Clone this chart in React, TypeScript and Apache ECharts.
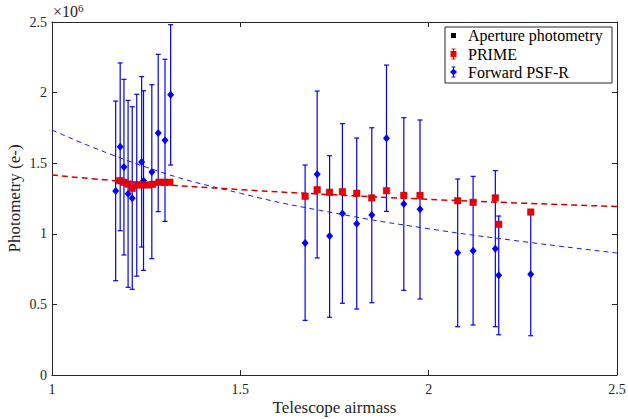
import React, { useEffect, useRef } from "react";
import * as echarts from "echarts";

// Forward PSF-R (values in units of 10^6 e-)
const blueAirmass = [1.169, 1.181, 1.191, 1.202, 1.213, 1.225, 1.238, 1.243, 1.265, 1.282, 1.300, 1.315,
  1.672, 1.704, 1.737, 1.771, 1.809, 1.849, 1.888, 1.934, 1.977, 2.077, 2.118, 2.177, 2.186, 2.271];
const blueValue = [1.303, 1.617, 1.473, 1.284, 1.251, 1.346, 1.508, 1.376, 1.438, 1.714, 1.662, 1.985,
  0.935, 1.421, 0.984, 1.143, 1.072, 1.133, 1.676, 1.211, 1.173, 0.866, 0.880, 0.895, 0.706, 0.713];
const blueLow = [0.668, 1.022, 0.850, 0.621, 0.607, 0.700, 0.906, 0.741, 0.824, 1.157, 1.088, 1.487,
  0.387, 0.829, 0.409, 0.508, 0.467, 0.512, 1.159, 0.600, 0.538, 0.342, 0.354, 0.342, 0.285, 0.278];
const blueHigh = [1.940, 2.210, 2.094, 1.945, 1.900, 1.988, 2.113, 2.013, 2.056, 2.271, 2.236, 2.481,
  1.487, 2.011, 1.553, 1.780, 1.678, 1.751, 2.195, 1.822, 1.806, 1.388, 1.407, 1.447, 1.126, 1.157];

// PRIME
const redAirmass = [1.180, 1.191, 1.202, 1.213, 1.225, 1.240, 1.256, 1.267, 1.284, 1.298, 1.313,
  1.672, 1.704, 1.737, 1.771, 1.809, 1.849, 1.888, 1.934, 1.977, 2.077, 2.118, 2.177, 2.186, 2.271];
const redValue = [1.376, 1.365, 1.353, 1.322, 1.346, 1.346, 1.346, 1.351, 1.365, 1.365, 1.365,
  1.266, 1.312, 1.294, 1.298, 1.287, 1.254, 1.305, 1.272, 1.272, 1.234, 1.223, 1.254, 1.067, 1.154];
const redError = [0.015, 0.015, 0.015, 0.015, 0.015, 0.015, 0.015, 0.015, 0.015, 0.015, 0.015,
  0.015, 0.015, 0.015, 0.015, 0.015, 0.015, 0.015, 0.015, 0.015, 0.015, 0.015, 0.015, 0.015, 0.015];

// Fitted trends
const fitAirmass = [1.0, 1.25, 1.5, 1.75, 2.0, 2.25, 2.5];
const fitBlue = [1.735, 1.472, 1.287, 1.147, 1.036, 0.945, 0.864];
const fitRed = [1.416, 1.358, 1.313, 1.276, 1.244, 1.217, 1.193];

const xTicks = [1, 1.5, 2, 2.5];
const yTicks = [0, 0.5, 1, 1.5, 2, 2.5];

const FONT = "'Liberation Serif', 'Times New Roman', serif";
const AX = "#262626";

function errorBarSeries(xs: number[], lo: number[], hi: number[], color: string, cap: number, z: number) {
  return {
    type: "custom",
    z,
    silent: true,
    encode: { x: 0, y: [1, 2] },
    data: xs.map((x, i) => [x, lo[i], hi[i]]),
    renderItem: (_params: any, api: any) => {
      const x = api.value(0);
      const p1 = api.coord([x, api.value(1)]);
      const p2 = api.coord([x, api.value(2)]);
      const style = { stroke: color, lineWidth: 1.2, fill: "none" };
      return {
        type: "group",
        children: [
          { type: "line", shape: { x1: p1[0], y1: p1[1], x2: p2[0], y2: p2[1] }, style },
          { type: "line", shape: { x1: p1[0] - cap, y1: p1[1], x2: p1[0] + cap, y2: p1[1] }, style },
          { type: "line", shape: { x1: p2[0] - cap, y1: p2[1], x2: p2[0] + cap, y2: p2[1] }, style },
        ],
      };
    },
  };
}

export default function App() {
  const ref = useRef<HTMLDivElement>(null);
  useEffect(() => {
    if (!ref.current) return;
    const chart = echarts.init(ref.current, null, { renderer: "svg" });
    const axisCommon = {
      min: 0,
      max: 2.5,
      interval: 0.5,
      axisLine: { show: true, onZero: false, lineStyle: { color: AX, width: 1 } },
      axisTick: { show: true, inside: true, length: 5, lineStyle: { color: AX } },
      splitLine: { show: false },
    };
    const lx = 445, ly = 27;
    chart.setOption({
      animation: false,
      backgroundColor: "#ffffff",
      grid: { left: 52, right: 11, top: 22, bottom: 44, containLabel: false, outerBoundsMode: "none" },
      xAxis: [
        {
          ...axisCommon,
          min: 1,
          max: 2.5,
          interval: 0.5,
          position: "bottom",
          name: "Telescope airmass",
          nameLocation: "middle",
          nameGap: 24,
          nameMoveOverlap: false,
          nameTextStyle: { fontFamily: FONT, fontSize: 17, color: AX },
          axisLabel: {
            fontFamily: FONT, fontSize: 14, color: AX, margin: 7,
            formatter: (v: number) => (xTicks.includes(v) ? String(v) : ""),
          },
        },
        {
          ...axisCommon,
          min: 1,
          max: 2.5,
          interval: 0.5,
          position: "top",
          axisLabel: { show: false },
        },
      ],
      yAxis: [
        {
          ...axisCommon,
          position: "left",
          name: "Photometry (e-)",
          nameLocation: "middle",
          nameGap: 29,
          nameMoveOverlap: false,
          nameTextStyle: { fontFamily: FONT, fontSize: 17, color: AX },
          axisLabel: {
            fontFamily: FONT, fontSize: 14, color: AX, margin: 5,
            formatter: (v: number) => (yTicks.includes(v) ? String(v) : ""),
          },
        },
        { ...axisCommon, position: "right", axisLabel: { show: false } },
      ],
      series: [
        errorBarSeries(blueAirmass, blueLow, blueHigh, "#0000ff", 2.5, 2),
        {
          type: "line",
          data: fitAirmass.map((x, i) => [x, fitBlue[i]]),
          smooth: true,
          symbol: "none",
          z: 3,
          lineStyle: { color: "#1a1aff", width: 1, type: [5, 4] },
        },
        errorBarSeries(redAirmass, redAirmass.map((_, i) => redValue[i] - redError[i]),
          redAirmass.map((_, i) => redValue[i] + redError[i]), "#ff0000", 2.5, 4),
        {
          type: "scatter",
          data: blueAirmass.map((x, i) => [x, blueValue[i]]),
          symbol: "diamond",
          symbolSize: [7, 8],
          z: 5,
          itemStyle: { color: "#0000ff", opacity: 1 },
        },
        {
          type: "scatter",
          data: redAirmass.map((x, i) => [x, redValue[i]]),
          symbol: "rect",
          symbolSize: 6.5,
          z: 6,
          itemStyle: { color: "#ee0000", borderColor: "#c00000", borderWidth: 0.5, opacity: 1 },
        },
        {
          type: "line",
          data: fitAirmass.map((x, i) => [x, fitRed[i]]),
          smooth: true,
          symbol: "none",
          z: 7,
          lineStyle: { color: "#d40000", width: 1.5, type: [6, 4] },
        },
      ],
      graphic: [
        {
          type: "text",
          left: 53,
          top: 2,
          style: {
            text: "×10{s|6}",
            fontFamily: FONT,
            fontSize: 16,
            fill: AX,
            rich: { s: { fontFamily: FONT, fontSize: 11, fill: AX, verticalAlign: "top", padding: [0, 0, 7, 0] } },
          },
        },
        {
          type: "group",
          x: lx,
          y: ly,
          z: 100,
          children: [
            { type: "rect", shape: { x: 0, y: 0, width: 167, height: 56 }, style: { fill: "#ffffff", stroke: AX, lineWidth: 1 } },
            { type: "rect", shape: { x: 6, y: 6, width: 5, height: 5 }, style: { fill: "#000000" } },
            { type: "text", x: 23, y: 8.5, style: { text: "Aperture photometry", fontFamily: FONT, fontSize: 16, fill: "#000", verticalAlign: "middle" } },
            { type: "line", shape: { x1: 8.5, y1: 22, x2: 8.5, y2: 32 }, style: { stroke: "#ff0000", lineWidth: 1 } },
            { type: "line", shape: { x1: 6.5, y1: 22, x2: 10.5, y2: 22 }, style: { stroke: "#ff0000", lineWidth: 1 } },
            { type: "line", shape: { x1: 6.5, y1: 32, x2: 10.5, y2: 32 }, style: { stroke: "#ff0000", lineWidth: 1 } },
            { type: "rect", shape: { x: 5.5, y: 24, width: 6, height: 6 }, style: { fill: "#ee0000" } },
            { type: "text", x: 23, y: 27, style: { text: "PRIME", fontFamily: FONT, fontSize: 16, fill: "#000", verticalAlign: "middle" } },
            { type: "line", shape: { x1: 8.5, y1: 40, x2: 8.5, y2: 50 }, style: { stroke: "#0000ff", lineWidth: 1 } },
            { type: "line", shape: { x1: 6.5, y1: 40, x2: 10.5, y2: 40 }, style: { stroke: "#0000ff", lineWidth: 1 } },
            { type: "line", shape: { x1: 6.5, y1: 50, x2: 10.5, y2: 50 }, style: { stroke: "#0000ff", lineWidth: 1 } },
            { type: "polygon", shape: { points: [[8.5, 41.5], [12, 45], [8.5, 48.5], [5, 45]] }, style: { fill: "#0000ff" } },
            { type: "text", x: 23, y: 45, style: { text: "Forward PSF-R", fontFamily: FONT, fontSize: 16, fill: "#000", verticalAlign: "middle" } },
          ],
        },
      ],
    });
    return () => chart.dispose();
  }, []);
  return <div ref={ref} style={{ width: 628, height: 419, position: "absolute", left: 0, top: 0 }} />;
}
